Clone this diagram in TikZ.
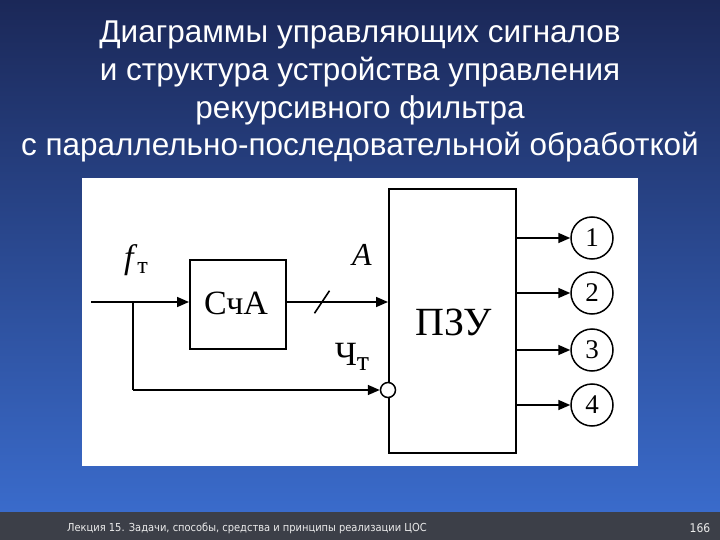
\documentclass[tikz,border=0pt]{standalone}
\usepackage{fontspec}
\setmainfont{Liberation Serif}
\newfontfamily\titlefont{Liberation Sans}
\newfontfamily\footfont{DejaVu Sans Condensed}
\usetikzlibrary{arrows.meta}
\definecolor{bgtop}{HTML}{1B2858}
\definecolor{bgbot}{HTML}{3A6BCB}
\definecolor{footbg}{HTML}{3C3F48}
\tikzset{
  blk/.style={draw,line width=1.6pt,fill=white},
  wire/.style={line width=1.6pt},
  arr/.style={wire,-{Triangle[length=12pt,width=10pt]}},
  outc/.style={circle,draw,line width=1.5pt,minimum size=42pt,inner sep=0pt,font=\fontsize{27}{27}\selectfont},
  ttl/.style={text=white,font=\titlefont\fontsize{31.5}{31.5}\selectfont},
  lbl/.style={font=\fontsize{34}{34}\selectfont}
}
\begin{document}
\begin{tikzpicture}[x=1pt,y=-1pt]
\useasboundingbox (0,0) rectangle (720,540);
\shade[top color=bgtop,bottom color=bgbot] (0,0) rectangle (720,512);
\fill[footbg] (0,512) rectangle (720,540);
\node[ttl] (t1) at (360,35) {Диаграммы управляющих сигналов};
\node[ttl] (t2) at (360,72) {и структура устройства управления};
\node[ttl] (t3) at (360,110) {рекурсивного фильтра};
\node[ttl] (t4) at (360,147) {с параллельно-последовательной обработкой};
\node[text=white!85!gray,font=\footfont\fontsize{11}{11}\selectfont] (ft) at (247,528) {Лекция 15. Задачи, способы, средства и принципы реализации ЦОС};
\node[text=white!85!gray,font=\footfont\fontsize{12}{12}\selectfont] (pg) at (700,528) {166};
\fill[white] (82,178) rectangle (638,466);
\node[blk,minimum width=127pt,minimum height=264pt,anchor=north west] (rom) at (388,188) {};
\node[font=\fontsize{40}{40}\selectfont] (romt) at (454,322) {ПЗУ};
\node[blk,minimum width=96pt,minimum height=89pt,anchor=north west] (cnt) at (189,259) {};
\node[lbl] (cntt) at (236,303) {СчА};
\coordinate (in) at (91,302);
\coordinate (br) at (133,302);
\coordinate (bb) at (133,390);
\node[circle,draw,line width=1.5pt,fill=white,minimum size=15pt,inner sep=0pt] (inv) at (388,390) {};
\draw[arr] (in) -- (cnt.west |- in);
\draw[arr] (cnt.east |- in) -- (rom.west |- in);
\draw[wire] (br) -- (bb);
\draw[arr] (bb) -- (inv.west);
\node[inner sep=0] (sl1) at (314,314) {};
\node[inner sep=0] (sl2) at (330,290) {};
\draw[wire] (sl1) -- (sl2);
\node[font=\itshape\fontsize{32}{32}\selectfont] (A) at (362,255) {A};
\node[lbl] (cht) at (352,357) {Ч\raisebox{-0.3ex}{\fontsize{28}{28}\selectfont т}};
\node[lbl] (ft) at (136,260) {\textit{f}\raisebox{-0.35ex}{\fontsize{24}{24}\selectfont т}};
\foreach \y/\n in {238/1,293/2,350/3,405/4}{
  \node[outc] (o\n) at (592,\y) {\n};
  \draw[arr] (rom.east |- o\n) -- (o\n.west);
}
\end{tikzpicture}
\end{document}
